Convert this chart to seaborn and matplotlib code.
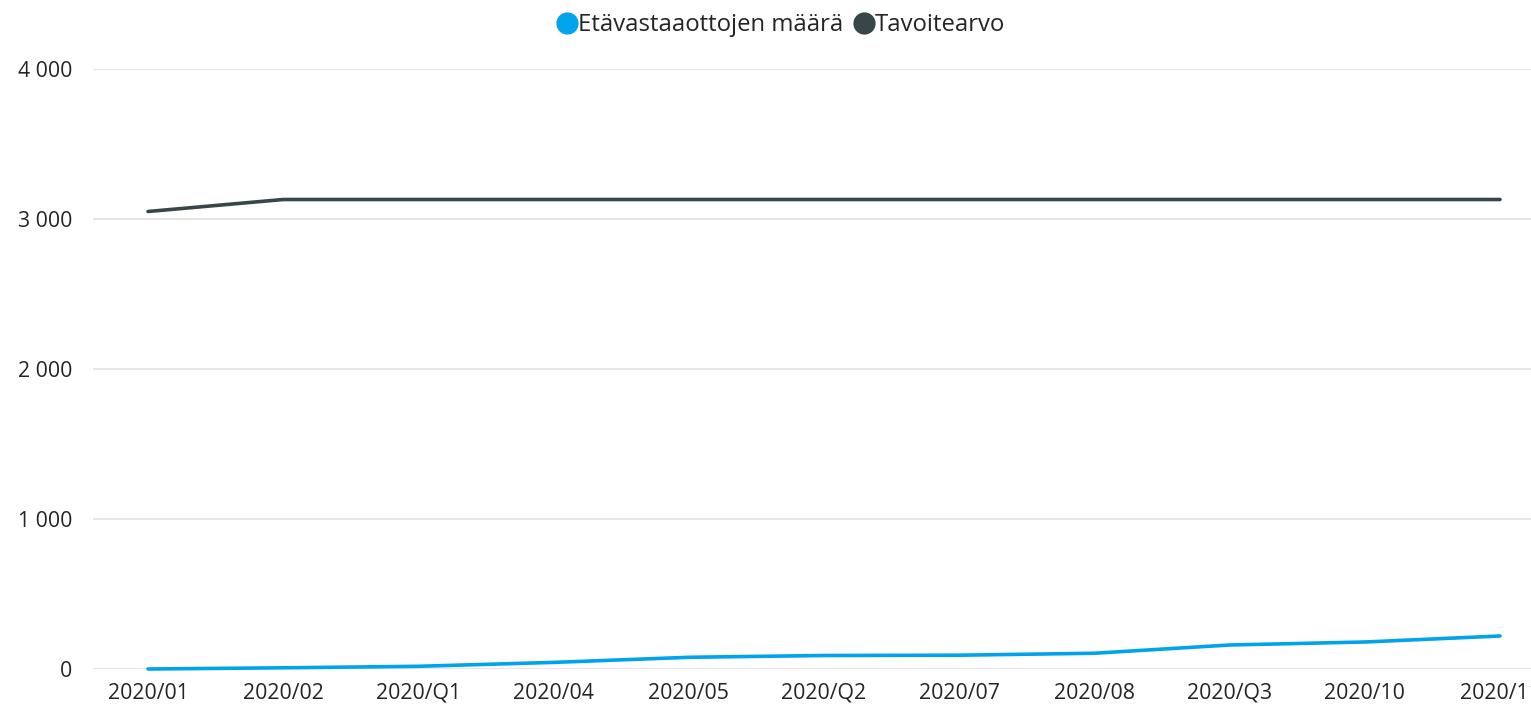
import matplotlib
matplotlib.use("Agg")
import matplotlib.pyplot as plt
from matplotlib.lines import Line2D
import seaborn as sns
import pandas as pd

categories = ["2020/01", "2020/02", "2020/Q1", "2020/04", "2020/05", "2020/Q2",
              "2020/07", "2020/08", "2020/Q3", "2020/10", "2020/11"]
etavastaanotot = [0, 8, 18, 44, 78, 90, 92, 105, 160, 180, 220]
tavoitearvo = [3050, 3130, 3130, 3130, 3130, 3130, 3130, 3130, 3130, 3130, 3130]
series_names = ["Etävastaaottojen määrä", "Tavoitearvo"]
colors = ["#01A4EA", "#374649"]
yticks = [0, 1000, 2000, 3000, 4000]
ytick_labels = ["0", "1 000", "2 000", "3 000", "4 000"]

df = pd.DataFrame({
    "x": list(range(len(categories))) * 2,
    "value": etavastaanotot + tavoitearvo,
    "series": [series_names[0]] * len(categories) + [series_names[1]] * len(categories),
})

sns.set_theme(style="white")
plt.rcParams["font.family"] = ["Open Sans", "DejaVu Sans"]

W, H = 1531, 706
fig = plt.figure(figsize=(W / 100, H / 100), dpi=100)
ax = fig.add_axes([93 / W, (H - 669) / H, (W - 93) / W, 600 / H])

sns.lineplot(data=df, x="x", y="value", hue="series", palette=colors,
             linewidth=2.6, ax=ax, legend=False, clip_on=False, zorder=3)
for ln in ax.get_lines():
    ln.set_solid_capstyle("round")

ax.set_xlim(-55 / 135.2, 10 + 31 / 135.2)
ax.set_ylim(0, 4000)
ax.set_yticks(yticks)
ax.set_yticklabels(ytick_labels)
ax.set_xticks(range(len(categories)))
ax.set_xticklabels(categories)
ax.set_xlabel("")
ax.set_ylabel("")
for s in ax.spines.values():
    s.set_visible(False)
ax.grid(axis="y", color="#E6E6E6", linewidth=1.5)
ax.grid(axis="x", visible=False)
ax.tick_params(axis="both", length=0, labelsize=15.3, colors="#252423")
ax.tick_params(axis="y", pad=15)
ax.tick_params(axis="x", pad=10)

handles = [Line2D([0], [0], marker="o", color="none", markerfacecolor=c,
                  markeredgecolor=c, markersize=15) for c in colors]
fig.legend(handles, series_names, loc="upper center", bbox_to_anchor=(0.51, 1.012),
           ncol=2, frameon=False, fontsize=17.2, handletextpad=0.0,
           columnspacing=0.45, handlelength=0.9, labelcolor="#252423")

fig.savefig("out.png", dpi=100)
